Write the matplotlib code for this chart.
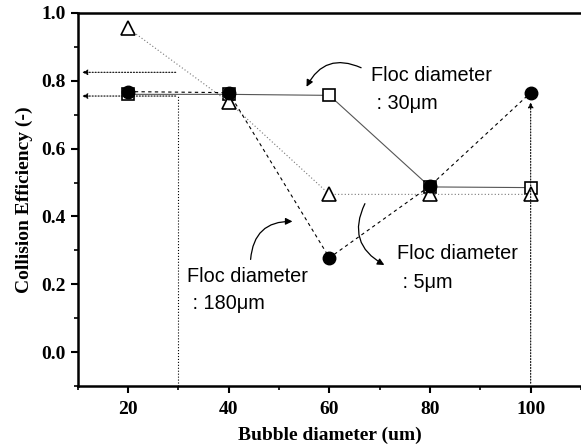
import matplotlib
matplotlib.use("Agg")
import matplotlib.pyplot as plt
from matplotlib.ticker import MultipleLocator

# datos
bubble = [20, 40, 60, 80, 100]
floc_30 = [0.76, 0.76, 0.757, 0.487, 0.485]
floc_180 = [0.768, 0.765, 0.278, 0.49, 0.765]
floc_5 = [0.955, 0.737, 0.465, 0.465, 0.465]

fig = plt.figure(figsize=(5.81, 4.47), dpi=100)
ax = fig.add_axes([0.134, 0.1365, 0.866, 0.8345])

ax.plot(bubble, floc_30, color='#555555', lw=0.8, ls='-', marker='s', ms=8,
        mfc='white', mec='black', mew=1.2, zorder=3)
ax.plot(bubble, floc_180, color='black', lw=0.8, ls=(0, (3, 3)), marker='o', ms=9,
        mfc='black', mec='black', zorder=4)
ax.plot(bubble, floc_5, color='#777777', lw=0.8, ls=(0, (1, 2)), marker='^', ms=10.5,
        mfc='white', mec='black', mew=1.2, zorder=3)

# lineas punteadas con flechas hacia los ejes
dot = dict(arrowstyle='-|>', color='black', lw=0.8, ls=':', mutation_scale=8)
ax.plot([30, 30], [-0.1, 0.755], color='black', lw=0.8, ls=':')
ax.annotate('', xy=(10.3, 0.755), xytext=(30, 0.755), arrowprops=dot)
ax.annotate('', xy=(10.3, 0.825), xytext=(30, 0.825), arrowprops=dot)
ax.annotate('', xy=(100, 0.745), xytext=(100, -0.1), arrowprops=dot)

# textos
txt = dict(fontsize=14.3, family='Liberation Sans', va='center', ha='left')
ax.text(68.2, 0.815, 'Floc diameter', **txt)
ax.text(68.2, 0.732, ' : 30\u03bcm', **txt)
ax.text(31.6, 0.224, 'Floc diameter', **txt)
ax.text(31.6, 0.144, ' : 180\u03bcm', **txt)
ax.text(73.4, 0.29, 'Floc diameter', **txt)
ax.text(73.4, 0.206, ' : 5\u03bcm', **txt)

# flechas curvas
curve = dict(arrowstyle='-|>', color='black', lw=0.9, mutation_scale=10)
ax.annotate('', xy=(55.2, 0.775), xytext=(66.8, 0.835),
            arrowprops=dict(connectionstyle='arc3,rad=0.5', **curve))
ax.annotate('', xy=(53.2, 0.385), xytext=(44.3, 0.265),
            arrowprops=dict(connectionstyle='arc3,rad=-0.5', **curve))
ax.annotate('', xy=(71.4, 0.253), xytext=(67.3, 0.445),
            arrowprops=dict(connectionstyle='arc3,rad=0.5', **curve))

ax.set_xlim(10, 110)
ax.set_ylim(-0.1, 1.0)
ax.xaxis.set_major_locator(MultipleLocator(20))
ax.xaxis.set_minor_locator(MultipleLocator(10))
ax.yaxis.set_major_locator(MultipleLocator(0.2))
ax.yaxis.set_minor_locator(MultipleLocator(0.1))
ax.set_xticks([20, 40, 60, 80, 100])

ax.spines['right'].set_visible(False)
for s in ['left', 'bottom', 'top']:
    ax.spines[s].set_linewidth(1.8)
ax.tick_params(which='major', direction='out', length=5, width=1.5)
ax.tick_params(which='minor', direction='out', length=3, width=1.2)
ax.tick_params(axis='x', pad=6)
ax.tick_params(top=False, right=False)

for lab in ax.get_xticklabels() + ax.get_yticklabels():
    lab.set_family('Liberation Serif')
    lab.set_fontweight('bold')
    lab.set_fontsize(14)

ax.set_xlabel('Bubble diameter (um)', family='Liberation Serif', fontweight='bold',
              fontsize=14, labelpad=6)
ax.set_ylabel('Collision Efficiency (-)', family='Liberation Serif', fontweight='bold',
              fontsize=14, labelpad=6)

fig.savefig('out.png', dpi=100)
